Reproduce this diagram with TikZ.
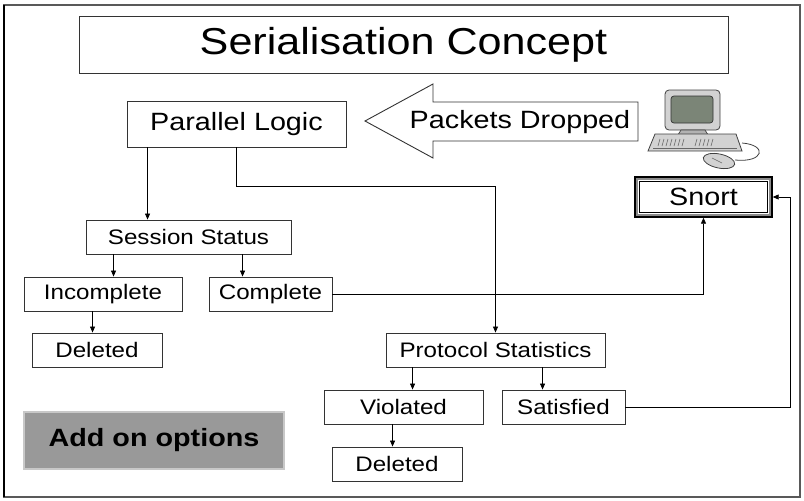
\documentclass[tikz,border=0pt]{standalone}
\usepackage{fontspec}
\setmainfont{Liberation Sans}[FakeStretch=1.15]
\usetikzlibrary{arrows.meta,calc}
\definecolor{boxline}{HTML}{333333}
\definecolor{addfill}{HTML}{999999}
\definecolor{addline}{HTML}{C8C8C8}
\definecolor{screen}{HTML}{7B8577}
\definecolor{casing}{HTML}{D2D2D2}
\begin{document}
\begin{tikzpicture}[x=1pt,y=-1pt,
  box/.style={draw=boxline,line width=0.9pt,fill=white,inner sep=0pt,
    font=\fontsize{21}{24}\selectfont},
  bigbox/.style={box,font=\fontsize{25}{28}\selectfont},
  arr/.style={draw=black,line width=0.8pt,-{Triangle[length=6pt,width=5pt]}},
  wire/.style={draw=black,line width=0.8pt}]
\useasboundingbox (0,0) rectangle (804,501);
% outer frame
\draw[draw=black!65,line width=1.4pt] (4,5) rectangle (800,497);
\draw[draw=black,line width=1.6pt] (4,5) -- (4,497);

% title
\node[box,minimum width=649pt,minimum height=57pt,
  font=\fontsize{37.5}{40}\selectfont] (title) at (403.5,44.5) {Serialisation Concept};

% main boxes
\node[bigbox,minimum width=219pt,minimum height=46pt] (PL) at (236.5,124) {Parallel Logic};
\node[box,minimum width=205pt,minimum height=34pt] (SS) at (188.5,237) {Session Status};
\node[box,minimum width=158pt,minimum height=34pt] (Inc) at (103,294) {Incomplete};
\node[box,minimum width=123pt,minimum height=34pt] (Comp) at (270.5,294) {Complete};
\node[box,minimum width=130pt,minimum height=34pt] (DelA) at (97,350) {Deleted};
\node[box,minimum width=219pt,minimum height=34pt] (PS) at (495.5,350) {Protocol Statistics};
\node[box,minimum width=159pt,minimum height=34pt] (Viol) at (403.5,407) {Violated};
\node[box,minimum width=123pt,minimum height=34pt] (Sat) at (563.5,407) {Satisfied};
\node[box,minimum width=130pt,minimum height=34pt] (DelB) at (397,464) {Deleted};

% add-on options block
\node[draw=addline,fill=addfill,line width=1.4pt,inner sep=0pt,
  minimum width=260pt,minimum height=57pt,
  font=\fontsize{25}{28}\selectfont\bfseries] (add) at (154,440.5) {Add on options};

% Snort box with a triple border
\node[draw=black,line width=1.4pt,inner sep=0pt,minimum width=137pt,minimum height=40pt,
  font=\fontsize{25}{28}\selectfont] (Snort) at (703.5,197) {Snort};
\draw[draw=black!45,line width=1.3pt] ($(Snort.north west)+(2.6,2.6)$) rectangle ($(Snort.south east)+(-2.6,-2.6)$);
\draw[draw=black,line width=0.8pt] ($(Snort.north west)+(5,5)$) rectangle ($(Snort.south east)+(-5,-5)$);

% "Packets Dropped" block arrow
\draw[draw=boxline,line width=0.9pt,fill=white]
  (365,121) -- (433,84) -- (433,102) -- (638,102) -- (638,141) -- (433,141) -- (433,158) -- cycle;
\node[font=\fontsize{25}{28}\selectfont,inner sep=0pt] (drop) at (520,122) {Packets Dropped};

% computer
\draw[draw=black!75,line width=0.8pt,fill=casing,rounded corners=4pt] (665,90) rectangle (720,130);
\draw[draw=black!80,line width=0.7pt,fill=screen,rounded corners=3pt] (671,96) rectangle (713,123);
\draw[draw=black!75,line width=0.7pt,fill=casing!85!black] (681,130) -- (705,130) -- (710,138) -- (676,138) -- cycle;
\draw[draw=black!75,line width=0.8pt,fill=casing] (655,134) -- (736,134) -- (742,151) -- (648,151) -- cycle;
\foreach \k in {0,...,6} \draw[black!60,line width=0.6pt] (660+4*\k,139) -- (658+4*\k,146);
\foreach \k in {0,...,4} \draw[black!60,line width=0.6pt] (697+4*\k,139) -- (695+4*\k,146);
\draw[black!60,line width=0.6pt] (653,148) -- (737,148);
\draw[draw=black!75,line width=0.8pt] (742,143) .. controls (768,145) and (764,163) .. (735,160);
\draw[draw=black!75,line width=0.8pt,fill=casing,rotate around={-12:(719,161)}] (719,161) ellipse (16pt and 7pt);
\draw[black!60,line width=0.6pt] (712,158) -- (722,163);

% connectors
\coordinate (mid) at (0,186);
\draw[arr] ($(PL.south west)+(21,0)$) coordinate (pA) -- (pA |- SS.north);
\draw[arr] ($(PL.south west)+(110,0)$) coordinate (pB) |- (PS.north |- mid) -- (PS.north);
\draw[arr] ($(SS.south west)+(28,0)$) coordinate (sA) -- (sA |- Inc.north);
\draw[arr] ($(SS.south west)+(157,0)$) coordinate (sB) -- (sB |- Comp.north);
\draw[arr] ($(Inc.south west)+(69,0)$) coordinate (iA) -- (iA |- DelA.north);
\draw[arr] (Comp.east) -| (Snort.south);
\draw[arr] ($(PS.south west)+(27,0)$) coordinate (qA) -- (qA |- Viol.north);
\draw[arr] ($(PS.south west)+(157,0)$) coordinate (qB) -- (qB |- Sat.north);
\draw[arr] ($(Viol.south west)+(69,0)$) coordinate (vA) -- (vA |- DelB.north);
\draw[arr] (Sat.east) -- ++(165,0) coordinate (turn) |- (Snort.east);
\end{tikzpicture}
\end{document}
